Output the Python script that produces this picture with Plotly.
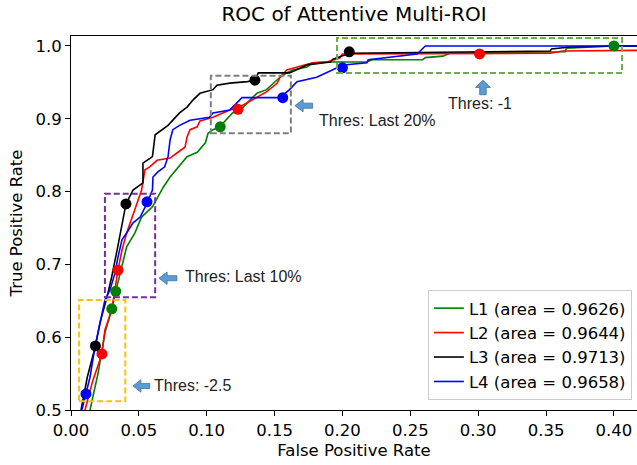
import plotly.graph_objects as go

# ---- data ----
names = ["L1 (area = 0.9626)", "L2 (area = 0.9644)", "L3 (area = 0.9713)", "L4 (area = 0.9658)"]
colors = ["green", "red", "black", "blue"]

l1_fpr = [0.014, 0.020, 0.025, 0.030, 0.033, 0.0376, 0.041, 0.047, 0.052, 0.060, 0.064, 0.068, 0.073, 0.079,
          0.0855, 0.093, 0.099, 0.101, 0.1046, 0.110, 0.112, 0.119, 0.127, 0.132, 0.137, 0.144, 0.149, 0.154,
          0.159, 0.1635, 0.174, 0.178, 0.1886, 0.198, 0.218, 0.222, 0.259, 0.261, 0.274, 0.279, 0.364, 0.365,
          0.399, 0.417]
l1_tpr = [0.500, 0.551, 0.606, 0.639, 0.663, 0.696, 0.724, 0.743, 0.765, 0.779, 0.793, 0.806, 0.820, 0.834,
          0.848, 0.854, 0.867, 0.880, 0.885, 0.889, 0.894, 0.908, 0.916, 0.926, 0.935, 0.940, 0.949, 0.957,
          0.963, 0.967, 0.971, 0.977, 0.978, 0.978, 0.978, 0.981, 0.981, 0.984, 0.986, 0.990, 0.992, 0.997,
          1.000, 1.000]

l2_fpr = [0.0103, 0.016, 0.0228, 0.025, 0.030, 0.0346, 0.0376, 0.041, 0.047, 0.052, 0.0545, 0.058, 0.0634,
          0.073, 0.078, 0.084, 0.0855, 0.0877, 0.093, 0.095, 0.1046, 0.117, 0.123, 0.130, 0.137, 0.144, 0.152,
          0.154, 0.159, 0.1665, 0.174, 0.178, 0.1886, 0.198, 0.200, 0.353, 0.362, 0.417]
l2_tpr = [0.500, 0.540, 0.577, 0.610, 0.637, 0.692, 0.720, 0.743, 0.775, 0.802, 0.830, 0.834, 0.843,
          0.846, 0.853, 0.861, 0.875, 0.885, 0.889, 0.897, 0.902, 0.912, 0.915, 0.922, 0.929, 0.937, 0.949,
          0.957, 0.967, 0.971, 0.974, 0.977, 0.978, 0.9835, 0.989, 0.990, 0.993, 0.994]

l3_fpr = [0.0074, 0.012, 0.018, 0.0214, 0.0265, 0.030, 0.034, 0.0376, 0.0405, 0.0457, 0.053, 0.053, 0.060,
          0.062, 0.067, 0.0715, 0.080, 0.0855, 0.090, 0.095, 0.1046, 0.1075, 0.117, 0.130, 0.1355, 0.138,
          0.161, 0.169, 0.174, 0.191, 0.193, 0.2055, 0.353, 0.354, 0.3676, 0.402, 0.417]
l3_tpr = [0.500, 0.545, 0.588, 0.620, 0.655, 0.683, 0.720, 0.757, 0.783, 0.802, 0.812, 0.839, 0.848,
          0.878, 0.885, 0.891, 0.908, 0.916, 0.926, 0.935, 0.940, 0.946, 0.949, 0.951, 0.953, 0.963,
          0.963, 0.970, 0.974, 0.978, 0.982, 0.990, 0.993, 0.996, 0.9986, 1.000, 1.000]

l4_fpr = [0.008, 0.011, 0.014, 0.0177, 0.021, 0.025, 0.0287, 0.0324, 0.0346, 0.0376, 0.041, 0.0457, 0.051,
          0.056, 0.060, 0.0604, 0.064, 0.069, 0.0715, 0.073, 0.075, 0.080, 0.0877, 0.102, 0.1046, 0.117,
          0.126, 0.154, 0.161, 0.1665, 0.181, 0.1886, 0.196, 0.200, 0.201, 0.218, 0.219, 0.255, 0.261, 0.417]
l4_tpr = [0.500, 0.522, 0.545, 0.587, 0.614, 0.651, 0.665, 0.688, 0.710, 0.734, 0.743, 0.757, 0.765,
          0.784, 0.802, 0.820, 0.827, 0.834, 0.848, 0.871, 0.885, 0.891, 0.898, 0.902, 0.908, 0.912,
          0.929, 0.929, 0.940, 0.951, 0.957, 0.964, 0.970, 0.970, 0.974, 0.977, 0.981, 0.989, 1.000, 1.000]

# threshold markers (fpr, tpr) per curve
l1_mk_fpr = [0.030, 0.033, 0.110, 0.400]
l1_mk_tpr = [0.639, 0.663, 0.889, 1.000]
l2_mk_fpr = [0.0228, 0.0346, 0.123, 0.301]
l2_mk_tpr = [0.577, 0.692, 0.913, 0.989]
l3_mk_fpr = [0.018, 0.0405, 0.1355, 0.205]
l3_mk_tpr = [0.588, 0.783, 0.953, 0.992]
l4_mk_fpr = [0.011, 0.056, 0.156, 0.200]
l4_mk_tpr = [0.522, 0.786, 0.929, 0.970]

curves = [(l1_fpr, l1_tpr), (l2_fpr, l2_tpr), (l3_fpr, l3_tpr), (l4_fpr, l4_tpr)]
marks = [(l1_mk_fpr, l1_mk_tpr), (l2_mk_fpr, l2_mk_tpr), (l3_mk_fpr, l3_mk_tpr), (l4_mk_fpr, l4_mk_tpr)]

# threshold boxes
box_x0 = [0.196, 0.103, 0.025, 0.006]
box_x1 = [0.406, 0.162, 0.062, 0.040]
box_y0 = [0.963, 0.880, 0.655, 0.512]
box_y1 = [1.011, 0.959, 0.797, 0.651]
box_colors = ["#70AD47", "#7F7F7F", "#7030A0", "#FFC000"]

labels = ["Thres: -1", "Thres: Last 20%", "Thres: Last 10%", "Thres: -2.5"]

fig = go.Figure()
for (fx, ty), c, n in zip(curves, colors, names):
    fig.add_trace(go.Scatter(x=fx, y=ty, mode="lines", name=n,
                             line=dict(color=c, width=1.6), showlegend=True))
for (fx, ty), c in zip(marks, colors):
    fig.add_trace(go.Scatter(x=fx, y=ty, mode="markers", showlegend=False,
                             marker=dict(color=c, size=11, line=dict(width=0))))

shapes = []
for x0, x1, y0, y1, c in zip(box_x0, box_x1, box_y0, box_y1, box_colors):
    shapes.append(dict(type="rect", xref="x", yref="y", x0=x0, x1=x1, y0=y0, y1=y1,
                       line=dict(color=c, width=2, dash="6px,3px"), fillcolor="rgba(0,0,0,0)"))

arrow_fill = "#5B9BD5"
arrow_line = "#41719C"


def left_arrow(tip_x, y, tail_x, head_x, hh, sh):
    return (f"M {tip_x},{y} L {head_x},{y+hh} L {head_x},{y+sh} L {tail_x},{y+sh} "
            f"L {tail_x},{y-sh} L {head_x},{y-sh} L {head_x},{y-hh} Z")


def up_arrow(x, tip_y, tail_y, head_y, hw, sw):
    return (f"M {x},{tip_y} L {x+hw},{head_y} L {x+sw},{head_y} L {x+sw},{tail_y} "
            f"L {x-sw},{tail_y} L {x-sw},{head_y} L {x-hw},{head_y} Z")


arrow_paths = [
    up_arrow(0.3035, 0.953, 0.933, 0.943, 0.0055, 0.0024),
    left_arrow(0.165, 0.918, 0.178, 0.171, 0.0085, 0.0035),
    left_arrow(0.0648, 0.681, 0.078, 0.0708, 0.0085, 0.0035),
    left_arrow(0.0457, 0.533, 0.058, 0.0515, 0.0085, 0.0035),
]
for p in arrow_paths:
    shapes.append(dict(type="path", xref="x", yref="y", path=p,
                       fillcolor=arrow_fill, line=dict(color=arrow_line, width=0.8)))

ann_x = [0.3015, 0.181, 0.0822, 0.0595]
ann_y = [0.921, 0.898, 0.683, 0.533]
ann_anchor = ["center", "left", "left", "left"]
annotations = []
for t, x, y, a in zip(labels, ann_x, ann_y, ann_anchor):
    annotations.append(dict(text=t, x=x, y=y, xref="x", yref="y", xanchor=a, yanchor="middle",
                            showarrow=False, font=dict(family="Liberation Sans, Arial", size=16, color="#222222")))

font = "DejaVu Sans"
fig.update_layout(
    width=637, height=465,
    margin=dict(l=71, r=0, t=36, b=55),
    paper_bgcolor="white", plot_bgcolor="white",
    title=dict(text="ROC of Attentive Multi-ROI", x=(71 + 637) / 2 / 637, xanchor="center",
               y=1 - 14 / 465, yanchor="middle", font=dict(family=font, size=20, color="black")),
    font=dict(family=font, size=16, color="black"),
    shapes=shapes,
    annotations=annotations,
    legend=dict(x=0.991, y=0.027, xanchor="right", yanchor="bottom", itemwidth=30,
                bgcolor="rgba(255,255,255,0.85)", bordercolor="#cccccc", borderwidth=1,
                font=dict(family=font, size=16.5, color="black"), tracegroupgap=0),
)
fig.update_xaxes(range=[0, 0.417], tickmode="array", automargin=False,
                 tickvals=[0, 0.05, 0.1, 0.15, 0.2, 0.25, 0.3, 0.35, 0.4],
                 tickformat=".2f", ticks="outside", ticklen=5, tickcolor="black",
                 showline=True, linecolor="black", linewidth=1, mirror=True,
                 showgrid=False, zeroline=False,
                 title=dict(text="False Positive Rate", font=dict(family=font, size=16.5), standoff=5),
                 tickfont=dict(family=font, size=16.5))
fig.update_yaxes(range=[0.5, 1.0137], tickmode="array", automargin=False,
                 tickvals=[0.5, 0.6, 0.7, 0.8, 0.9, 1.0], tickformat=".1f",
                 ticks="outside", ticklen=5, tickcolor="black",
                 showline=True, linecolor="black", linewidth=1, mirror=True,
                 showgrid=False, zeroline=False,
                 title=dict(text="True Positive Rate", font=dict(family=font, size=16.5), standoff=8),
                 tickfont=dict(family=font, size=16.5))

fig.write_html("out.html", config={"displayModeBar": False},
               post_script="document.body.style.margin='0';")
